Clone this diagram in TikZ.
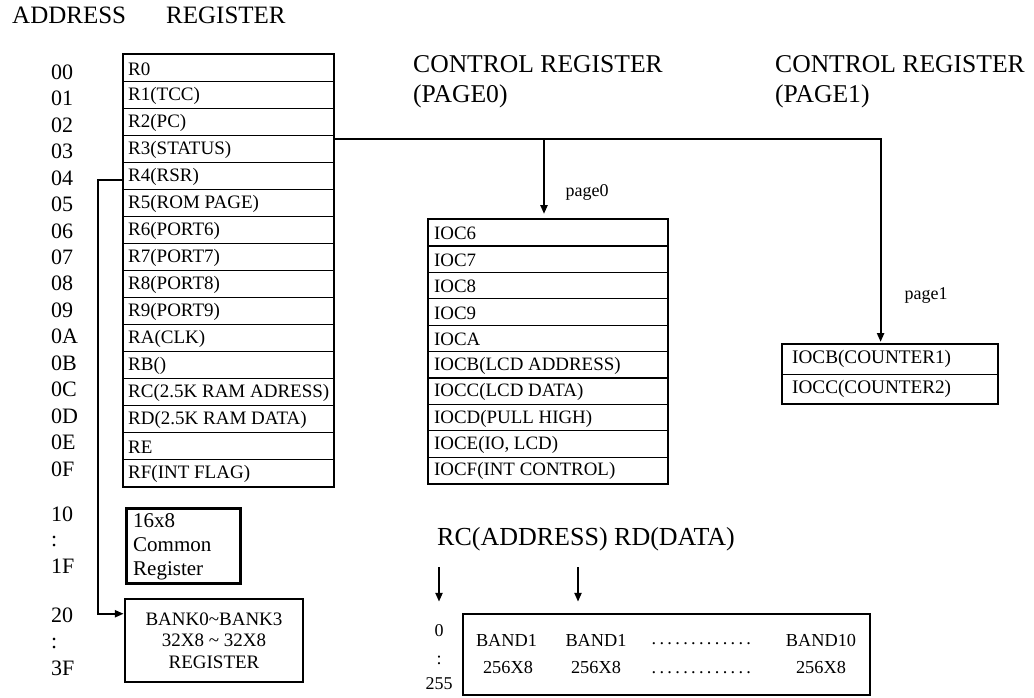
\documentclass[tikz,border=0pt]{standalone}
\usepackage{fontspec}
\setmainfont{Liberation Serif}
\usetikzlibrary{positioning}
\usetikzlibrary{arrows.meta}
\tikzstyle{every link} = []
\tikzstyle{link} = [>={Triangle[length=9pt,width=7pt]}, line width=2.2pt, draw, every link]
\tikzstyle{row} = [draw, rectangle, line width=1.2pt, anchor=north west, inner sep=0pt]
\tikzstyle{frame} = [draw, line width=2.5pt]
\tikzstyle{txt} = [anchor=west, inner sep=0pt]
\newcommand{\fsz}[1]{\fontsize{#1}{#1}\selectfont}
\newcommand{\dotrun}{\makebox[110pt]{\leaders\hbox to 7.9pt{\hss.\hss}\hfill}}

\begin{document}
\begin{tikzpicture}[x=1pt, y=-1pt]
    \useasboundingbox (0,0) rectangle (1034,698);

        \node[txt, font=\fsz{25}] (addrhead) at (12,15) {ADDRESS};
        \node[txt, font=\fsz{25}] (reghead) at (166,15) {REGISTER};

        % register file
        \foreach \t [count=\i from 0] in {R0, R1(TCC), R2(PC), R3(STATUS), R4(RSR), R5(ROM PAGE),
            R6(PORT6), R7(PORT7), R8(PORT8), R9(PORT9), RA(CLK), RB(), RC(2.5K RAM ADRESS),
            RD(2.5K RAM DATA), RE, RF(INT FLAG)} {
            \node[row, minimum width=210pt, minimum height=27pt] (reg\i) at (123,54+27*\i) {};
            \node[txt, font=\fsz{19}] (regtxt\i) at ([xshift=5pt,yshift=-1pt]reg\i.west) {\t};
        }
        \draw[frame] (reg0.north west) rectangle (reg15.south east);

        \foreach \a [count=\i from 0] in {00,01,02,03,04,05,06,07,08,09,0A,0B,0C,0D,0E,0F} {
            \node[txt, font=\fsz{22}] (addr\i) at (51,72+26.47*\i) {\a};
        }
        \node[txt, font=\fsz{22}] (addrten) at (51,514) {10};
        \node[txt, font=\fsz{22}] (addrcolA) at (51,541) {:};
        \node[txt, font=\fsz{22}] (addronef) at (51,566) {1F};
        \node[txt, font=\fsz{22}] (addrtwenty) at (51,615) {20};
        \node[txt, font=\fsz{22}] (addrcolB) at (51,643) {:};
        \node[txt, font=\fsz{22}] (addrthreef) at (51,668) {3F};

        \node[frame, anchor=north west, minimum width=114pt, minimum height=75pt] (common) at (125,507) {};
        \node[anchor=north west, inner sep=0pt, align=left, font=\fontsize{21}{24}\selectfont]
            (commontxt) at (133,513) {16x8\\Common\\Register};
        \node[frame, minimum width=178pt, minimum height=83pt, align=center,
            font=\fontsize{19}{21.5}\selectfont]
            (bank) at (214,640.5) {BANK0\textasciitilde BANK3\\32X8 \textasciitilde{} 32X8\\REGISTER};

        % control registers
        \node[anchor=base west, inner sep=0pt, font=\fsz{25.6}] (ctrlA) at (413,73) {CONTROL REGISTER};
        \node[anchor=base west, inner sep=0pt, font=\fsz{25.6}] (pageA) at (413,103) {(PAGE0)};
        \node[anchor=base west, inner sep=0pt, font=\fsz{25.6}] (ctrlB) at (775,73) {CONTROL REGISTER};
        \node[anchor=base west, inner sep=0pt, font=\fsz{25.6}] (pageB) at (775,103) {(PAGE1)};

        \foreach \t [count=\i from 0] in {IOC6, IOC7, IOC8, IOC9, IOCA, IOCB(LCD ADDRESS),
            IOCC(LCD DATA), IOCD(PULL HIGH), {IOCE(IO, LCD)}, IOCF(INT CONTROL)} {
            \node[row, minimum width=239pt, minimum height=26.4pt] (ioc\i) at (428,219+26.4*\i) {};
            \node[txt, font=\fsz{18.9}] (ioctxt\i) at ([xshift=6pt,yshift=-1pt]ioc\i.west) {\t};
        }
        \draw[frame] (ioc0.north west) rectangle (ioc9.south east);

        \foreach \t [count=\i from 0] in {IOCB(COUNTER1), IOCC(COUNTER2)} {
            \node[row, minimum width=215pt, minimum height=29.5pt] (cnt\i) at (782,344+29.5*\i) {};
            \node[txt, font=\fsz{19.2}] (cnttxt\i) at ([xshift=10pt]cnt\i.west) {\t};
        }
        \draw[frame] (cnt0.north west) rectangle (cnt1.south east);

        \node[font=\fsz{18}] (pgA) at (587,192) {page0};
        \node[font=\fsz{18}] (pgB) at (926,296) {page1};

        \coordinate (tap) at (544,139);
        \draw[link,->,shorten >=2pt] ([yshift=-4pt]reg3.north east) -| ([xshift=-9.5pt]cnt0.north);
        \draw[link,->,shorten >=5pt] (tap) -- (tap |- ioc0.north);
        \draw[link,->] ([yshift=-4pt]reg4.west) -- ++(-25,0) |- ([yshift=-16pt]bank.north west);

        % data ram
        \node[anchor=base west, inner sep=0pt, font=\fsz{26}] (rcrd) at (437,545) {RC(ADDRESS) RD(DATA)};
        \node[frame, minimum width=407pt, minimum height=81pt, inner sep=0pt] (band) at (666.5,654.5) {};
        \node[font=\fsz{18.3}] (bandA) at (506.5,640) {BAND1};
        \node[font=\fsz{18.3}] (bandB) at (596,640) {BAND1};
        \node[font=\fsz{18.3}, inner sep=0pt] (gapA) at (705,644) {\dotrun};
        \node[font=\fsz{18.3}] (bandJ) at (821,640) {BAND10};
        \node[font=\fsz{18.3}] (sizeA) at (508,667) {256X8};
        \node[font=\fsz{18.3}] (sizeB) at (596,667) {256X8};
        \node[font=\fsz{18.3}, inner sep=0pt] (gapB) at (705,673) {\dotrun};
        \node[font=\fsz{18.3}] (sizeJ) at (821,667) {256X8};

        \node[font=\fsz{18}] (lowA) at (439,631) {0};
        \node[font=\fsz{18}] (lowB) at (439,660) {:};
        \node[font=\fsz{18}] (lowC) at (439,683.5) {255};

        \coordinate (ptrA) at (439,567);
        \coordinate (ptrB) at (578,567);
        \draw[link,->,shorten >=11pt] (ptrA) -- (ptrA |- band.north);
        \draw[link,->,shorten >=11pt] (ptrB) -- (ptrB |- band.north);

\end{tikzpicture}
\end{document}
